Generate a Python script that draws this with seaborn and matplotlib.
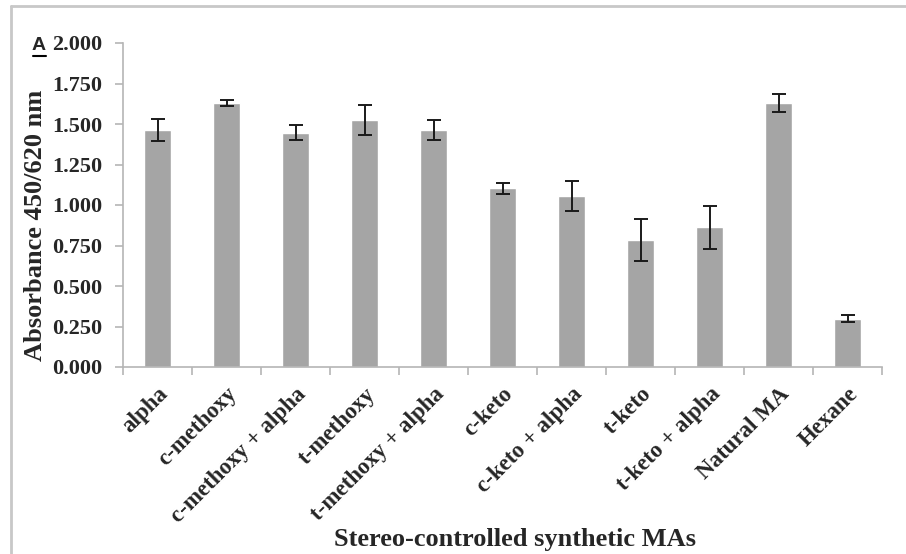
import matplotlib
matplotlib.use("Agg")
import matplotlib.pyplot as plt
import seaborn as sns
import pandas as pd
from matplotlib.lines import Line2D

categories = ["alpha", "c-methoxy", "c-methoxy + alpha", "t-methoxy", "t-methoxy + alpha",
              "c-keto", "c-keto + alpha", "t-keto", "t-keto + alpha", "Natural MA", "Hexane"]
values = [1.463, 1.632, 1.446, 1.525, 1.463, 1.103, 1.056, 0.786, 0.862, 1.628, 0.298]
errors = [0.066, 0.018, 0.045, 0.093, 0.060, 0.035, 0.094, 0.130, 0.133, 0.057, 0.020]
yticks = [0.0, 0.25, 0.5, 0.75, 1.0, 1.25, 1.5, 1.75, 2.0]

sns.set_theme(style="white")
plt.rcParams['font.family'] = ['Liberation Serif', 'DejaVu Serif']

df = pd.DataFrame({"cat": categories, "val": values})

fig = plt.figure(figsize=(9.06, 5.54), dpi=100)
ax = fig.add_axes([123/906, 1-367/554, (882-123)/906, (367-43)/554])

sns.barplot(data=df, x="cat", y="val", color="#A5A5A5", saturation=1, width=0.39,
            errorbar=None, ax=ax, zorder=2)
ax.errorbar(range(len(categories)), values, yerr=errors, fmt="none", ecolor="#1a1a1a",
            elinewidth=1.4, capsize=5, capthick=1.4, zorder=3)

ax.set_ylim(0, 2.0)
ax.set_xlim(-0.5, len(categories) - 0.5)
ax.set_yticks(yticks)
ax.set_yticklabels([f"{t:.3f}" for t in yticks], fontsize=16, fontweight="bold")
ax.set_xticks(range(len(categories)))
ax.set_xticklabels(categories, rotation=45, ha="right", rotation_mode="anchor",
                   fontsize=16.5, fontweight="bold")
ax.set_xticks([i - 0.5 for i in range(len(categories) + 1)], minor=True)
ax.tick_params(axis="x", which="major", length=0, pad=12)
ax.tick_params(axis="x", which="minor", length=6, direction="out", color="#B5B5B5", width=1.2, bottom=True)
ax.tick_params(axis="y", which="major", length=6, direction="out", color="#B5B5B5", width=1.2, left=True, pad=9)

for s in ["top", "right"]:
    ax.spines[s].set_visible(False)
for s in ["left", "bottom"]:
    ax.spines[s].set_color("#B5B5B5")
    ax.spines[s].set_linewidth(1.2)

ax.set_xlabel("Stereo-controlled synthetic MAs", fontsize=19, fontweight="bold")
ax.set_ylabel("Absorbance 450/620 nm", fontsize=19, fontweight="bold")
ax.xaxis.set_label_coords((515-123)/(882-123), -(528-367)/324)
ax.yaxis.set_label_coords((47-123)/(882-123), (367-225)/324)
ax.grid(False)

fig.text(39/906, 1-45/554, "A", fontsize=14, fontweight="bold", family="Liberation Sans",
         ha="center", va="center")
fig.add_artist(Line2D([33/906, 46/906], [1-56/554, 1-56/554], color="black", lw=1.5))

# outer frame lines (top and left)
fig.add_artist(Line2D([11/906, 1], [1-6/554, 1-6/554], color="#C8C8C8", lw=2))
fig.add_artist(Line2D([11/906, 11/906], [0, 1-6/554], color="#C8C8C8", lw=2))

fig.savefig("out.png", dpi=100)
